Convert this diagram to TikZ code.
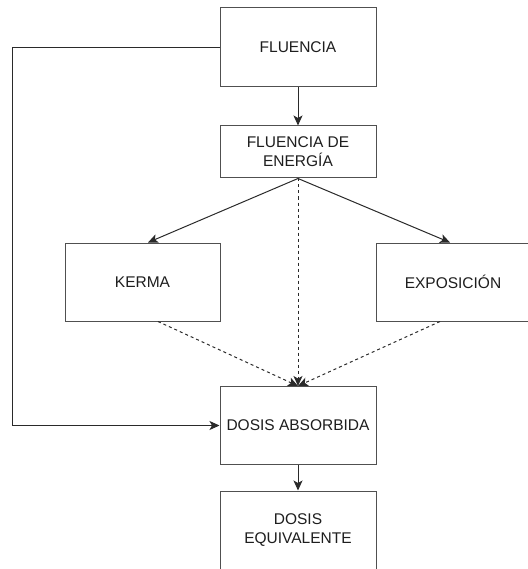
\documentclass[tikz,border=0pt]{standalone}
\usepackage{fontspec}
\setmainfont{Liberation Sans}
\usetikzlibrary{arrows.meta,calc}
\definecolor{edge}{HTML}{2a2a2a}
\definecolor{boxline}{HTML}{505050}
\definecolor{ink}{HTML}{1e1e1e}
\tikzset{
  box/.style={draw=boxline, line width=1pt, fill=white, text=ink,
    minimum width=156pt, minimum height=78pt, inner sep=0pt,
    align=center, font=\fontsize{15.5}{19}\selectfont},
  link/.style={draw=edge, line width=1pt,
    -{Stealth[length=10pt,width=9pt,inset=2.5pt]}},
  weak/.style={link, dash pattern=on 3pt off 3pt},
}
\begin{document}
\begin{tikzpicture}[x=1pt,y=-1pt]
  \useasboundingbox (0,0) rectangle (527,569);

  \node[box, minimum height=79pt] (flu) at (298,47.5) {FLUENCIA};
  \node[box, minimum height=52pt] (ene) at (298,152) {FLUENCIA DE\\ENERGÍA};
  \node[box, minimum width=155pt] (ker) at (142.5,282) {KERMA};
  \node[box, minimum width=154pt] (exp) at (453,282) {EXPOSICIÓN};
  \node[box] (abs) at (298,425.5) {DOSIS ABSORBIDA};
  \node[box] (equ) at (298,530) {DOSIS\\EQUIVALENTE};

  % solid links
  \draw[link] (flu.south) -- (ene.north);
  \draw[link] (ene.south) -- ([xshift=5.5pt]ker.north);
  \draw[link] (ene.south) -- ([xshift=-3pt]exp.north);
  \draw[link] (abs.south) -- (equ.north);
  \draw[link] (flu.west) -- ++(-207,0) |- (abs.west);

  % dashed links into the absorbed dose
  \draw[weak] ([xshift=15.5pt]ker.south) -- (abs.north);
  \draw[weak] (ene.south) -- (abs.north);
  \draw[weak] ([xshift=-13pt]exp.south) -- (abs.north);
\end{tikzpicture}
\end{document}
